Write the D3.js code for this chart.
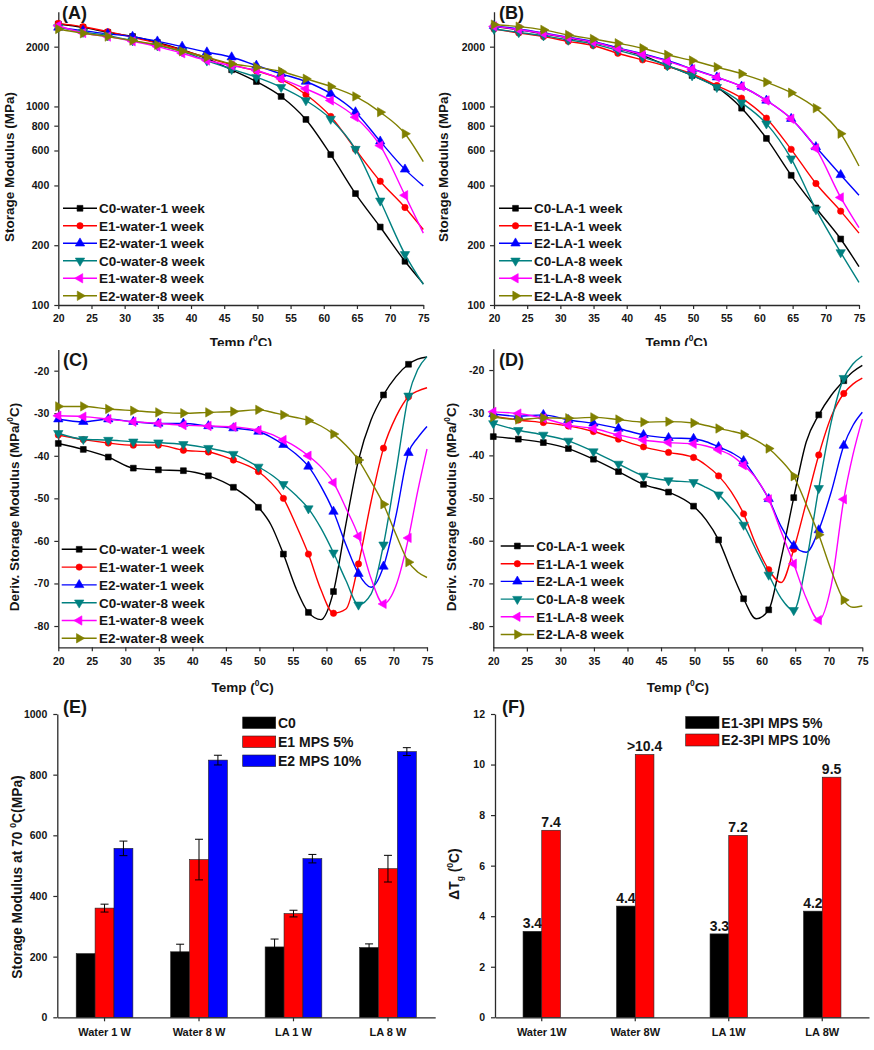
<!DOCTYPE html>
<html><head><meta charset="utf-8">
<script src="https://cdn.jsdelivr.net/npm/d3@7"></script>
<style>
body{margin:0;background:#fff;}
svg text{font-family:"Liberation Sans",Arial,sans-serif;font-weight:bold;fill:#151515;}
</style></head><body>
<svg id="c" width="874" height="1050"></svg>
<script>
// ---------------- DATA ----------------
const tempsAB = [20, 23.73, 27.46, 31.19, 34.93, 38.66, 42.39, 46.12, 49.85, 53.58, 57.31, 61.05, 64.78, 68.51, 72.24, 75];
const markerTemps = [20, 23.73, 27.46, 31.19, 34.93, 38.66, 42.39, 46.12, 49.85, 53.58, 57.31, 61.05, 64.78, 68.51, 72.24];
const tempsCD = [20, 23.73, 27.46, 31.19, 34.93, 38.66, 42.39, 46.12, 49.85, 51.72, 53.58, 55.45, 57.31, 59.18, 61.05, 62.91, 64.78, 66.65, 68.51, 70.38, 72.24, 73.6, 75];

const namesWater = ["C0-water-1 week", "E1-water-1 week", "E2-water-1 week", "C0-water-8 week", "E1-water-8 week", "E2-water-8 week"];
const namesLA = ["C0-LA-1 week", "E1-LA-1 week", "E2-LA-1 week", "C0-LA-8 week", "E1-LA-8 week", "E2-LA-8 week"];

// (A) storage modulus, water (MPa)
const A_C0_1 = [2600, 2500, 2360, 2250, 2100, 1930, 1740, 1530, 1335, 1123, 860, 572, 364, 247, 166, 128];
const A_E1_1 = [2620, 2520, 2380, 2230, 2080, 1920, 1760, 1620, 1510, 1370, 1149, 890, 608, 420, 310, 240];
const A_E2_1 = [2500, 2410, 2320, 2248, 2128, 2002, 1875, 1770, 1607, 1460, 1335, 1159, 936, 667, 482, 398];
const A_C0_8 = [2500, 2370, 2274, 2146, 2026, 1896, 1700, 1540, 1405, 1250, 1072, 865, 610, 335, 180, 127];
const A_E1_8 = [2550, 2345, 2248, 2128, 2002, 1853, 1703, 1607, 1517, 1378, 1227, 1072, 883, 635, 357, 230];
const A_E2_8 = [2455, 2335, 2248, 2146, 2041, 1896, 1770, 1640, 1577, 1500, 1378, 1260, 1123, 936, 729, 527];

// (B) storage modulus, LA (MPa)
const B_C0_1 = [2523, 2430, 2320, 2214, 2105, 1963, 1804, 1607, 1432, 1250, 980, 690, 450, 308, 215, 156];
const B_E1_1 = [2455, 2345, 2248, 2128, 2026, 1853, 1716, 1590, 1460, 1274, 1101, 873, 608, 409, 297, 230];
const B_E2_1 = [2547, 2455, 2345, 2230, 2128, 1972, 1840, 1703, 1546, 1403, 1260, 1072, 867, 625, 452, 357];
const B_C0_8 = [2455, 2362, 2274, 2163, 2066, 1915, 1770, 1607, 1432, 1250, 1044, 819, 546, 303, 184, 130];
const B_E1_8 = [2530, 2440, 2330, 2220, 2110, 1960, 1830, 1690, 1540, 1403, 1260, 1072, 867, 615, 348, 245];
const B_E2_8 = [2583, 2523, 2430, 2290, 2187, 2080, 1963, 1820, 1703, 1577, 1460, 1325, 1172, 980, 729, 501];

// (C) derivative, water (MPa/°C)
const C_C0_1 = [-37.1, -38.5, -40.3, -42.9, -43.3, -43.5, -44.7, -47.4, -52.1, -56.2, -63.1, -71.1, -76.8, -78.5, -71.9, -56, -41, -31.6, -25.7, -21.4, -18.5, -17.3, -16.8];
const C_E1_1 = [-35.1, -36.2, -37, -37.5, -37.5, -38.7, -39.1, -41, -43.7, -46.3, -50, -56.2, -63.1, -71.5, -77, -76, -65.4, -50.8, -38.2, -30.8, -26.1, -24.8, -24];
const C_E2_1 = [-31.4, -32, -31.4, -32, -32.4, -32.4, -33, -33.5, -34.3, -35.6, -37.4, -39.6, -42.5, -47.2, -53.1, -60.9, -67.7, -70.9, -66, -54, -39.3, -35.8, -33.1];
const C_C0_8 = [-34.7, -36.1, -36.3, -36.7, -36.9, -37.3, -38.2, -39.6, -42.6, -44.4, -46.7, -49.3, -52.4, -57, -62.8, -69.3, -75, -72.5, -60.9, -43.7, -25.9, -19.8, -16.7];
const C_E1_8 = [-30.6, -30.8, -31.4, -32, -32.4, -32.8, -33, -33.2, -34, -34.9, -36.3, -37.9, -40, -42.6, -46.3, -52.3, -58.9, -68.8, -74.8, -70.5, -59.3, -48.4, -38.4];
const C_E2_8 = [-28.4, -28.4, -29, -29.4, -29.8, -30, -29.8, -29.6, -29.2, -29.7, -30.4, -31, -31.7, -33, -34.9, -37.5, -41, -46, -51.4, -58.5, -65, -67.3, -68.6];

// (D) derivative, LA (MPa/°C)
const D_C0_1 = [-35.6, -36.2, -37, -38.4, -40.9, -43.8, -46.8, -48.6, -51.9, -55.1, -59.8, -67, -73.6, -78.3, -76.2, -64.1, -49.9, -36.8, -30.5, -25.9, -22.5, -20.4, -18.9];
const D_E1_1 = [-30.8, -31.7, -32.3, -33.1, -34.4, -36.2, -38, -39.3, -40.5, -42.3, -44.8, -48.5, -53.7, -61, -66.8, -69.8, -62, -51, -39.9, -30.9, -25.5, -23.3, -21.9];
const D_E2_1 = [-30.3, -30.8, -30.5, -31.7, -32.5, -33.7, -35.2, -35.9, -36.1, -36.8, -38, -39.3, -41.3, -45.4, -50.2, -56.7, -61.2, -62.7, -57.5, -48.5, -37.7, -33, -29.9];
const D_C0_8 = [-32.5, -34.1, -35.2, -36.6, -39.1, -42, -44.8, -45.9, -46.3, -47.5, -49.2, -52.4, -56.3, -62.2, -68, -73.5, -76.3, -65, -47.7, -32.1, -21.9, -18.6, -16.7];
const D_E1_8 = [-29.8, -30.2, -31.3, -32.9, -33.7, -35.2, -36.4, -37, -37.3, -37.8, -38.7, -40, -42.3, -45.4, -50.3, -57.9, -65.4, -73.5, -78.6, -70.4, -50.3, -39.9, -31.5];
const D_E2_8 = [-31, -31.6, -31.2, -31.3, -31.1, -31.6, -32.2, -32.1, -32.4, -33, -33.7, -34.3, -35.1, -36.5, -38.4, -41.2, -44.9, -51.5, -58.6, -67, -73.9, -75.6, -75.3];

const xTicksT = [20, 25, 30, 35, 40, 45, 50, 55, 60, 65, 70, 75];
const yTicksLog = [100, 200, 400, 600, 800, 1000, 2000];
const yTicksDeriv = [-20, -30, -40, -50, -60, -70, -80];

// (E) storage modulus at 70 °C
const catsE = ["Water 1 W", "Water 8 W", "LA 1 W", "LA 8 W"];
const groupsE = ["C0", "E1 MPS 5%", "E2 MPS 10%"];
const E_C0 = [210, 216, 232, 230];
const E_E1 = [360, 520, 342, 490];
const E_E2 = [557, 848, 523, 876];
const E_C0_err = [0, 25, 26, 12];
const E_E1_err = [13, 67, 11, 44];
const E_E2_err = [24, 16, 14, 13];
const yTicksE = [0, 200, 400, 600, 800, 1000];

// (F) delta Tg
const catsF = ["Water 1W", "Water 8W", "LA 1W", "LA 8W"];
const groupsF = ["E1-3PI MPS 5%", "E2-3PI MPS 10%"];
const F_E1 = [3.4, 4.4, 3.3, 4.2];
const F_E2 = [7.4, 10.4, 7.2, 9.5];
const F_E1_lab = ["3.4", "4.4", "3.3", "4.2"];
const F_E2_lab = ["7.4", ">10.4", "7.2", "9.5"];
const yTicksF = [0, 2, 4, 6, 8, 10, 12];

// ---------------- STYLE ----------------
const colors = ["#000000", "#ff0000", "#0000ff", "#008080", "#ff00ff", "#808000"];
const symTypes = [d3.symbolSquare, d3.symbolCircle, d3.symbolTriangle, d3.symbolTriangle, d3.symbolTriangle, d3.symbolTriangle];
const symRot = [0, 0, 0, 180, -90, 90];
const symSize = [34, 32, 38, 38, 38, 38];

const svg = d3.select("#c");
svg.append("defs").append("clipPath").attr("id", "clipTop")
  .append("rect").attr("x", 0).attr("y", 0).attr("width", 874).attr("height", 346);

function rich(g, x, y, parts, size, anchor, rotate) {
  const t = g.append("text")
    .attr("transform", `translate(${x},${y})` + (rotate ? " rotate(-90)" : ""))
    .attr("text-anchor", anchor || "middle")
    .attr("font-size", size);
  let shift = 0;
  parts.forEach(p => {
    const ts = t.append("tspan").text(p.t);
    let want = p.sup ? -0.45 * size : (p.sub ? 0.3 * size : 0);
    if (want !== shift) ts.attr("dy", want - shift);
    shift = want;
    if (p.sup || p.sub) ts.attr("font-size", size * 0.62);
  });
  return t;
}

function styleAxis(a, fs) {
  a.selectAll("path.domain").attr("stroke", "#2a2a2a").attr("stroke-width", 1.3);
  a.selectAll(".tick line").attr("stroke", "#2a2a2a").attr("stroke-width", 1.2);
  a.selectAll(".tick text").attr("font-size", fs).attr("fill", "#151515")
    .attr("font-family", "'Liberation Sans',Arial,sans-serif").attr("font-weight", "bold");
}

function marker(g, cx, cy, i) {
  g.append("path")
    .attr("d", d3.symbol().type(symTypes[i]).size(symSize[i])())
    .attr("transform", `translate(${cx},${cy}) rotate(${symRot[i]})`)
    .attr("fill", colors[i]).attr("stroke", colors[i]).attr("stroke-width", 0.6);
}

function linePanel(o) {
  const g = svg.append("g");
  if (o.clip) g.attr("clip-path", "url(#clipTop)");
  const x = d3.scaleLinear().domain([20, 75]).range(o.xr);
  const y = o.log ? d3.scaleLog().domain([100, 3000]).range(o.yr)
                  : d3.scaleLinear().domain([-85, -15]).range(o.yr);
  const xa = g.append("g").attr("transform", `translate(0,${o.yr[0]})`)
    .call(d3.axisBottom(x).tickValues(xTicksT).tickSize(4).tickPadding(6).tickSizeOuter(0));
  const ya = g.append("g").attr("transform", `translate(${o.xr[0]},0)`)
    .call(d3.axisLeft(y).tickValues(o.yTicks).tickFormat(d => String(d)).tickSize(4).tickPadding(5).tickSizeOuter(0));
  styleAxis(xa, 10.5); styleAxis(ya, 10.5);

  const line = d3.line().x(d => x(d[0])).y(d => y(d[1])).curve(d3.curveMonotoneX);
  o.series.forEach((vals, i) => {
    const pts = o.temps.map((t, j) => [t, vals[j]]);
    g.append("path").datum(pts).attr("d", line).attr("fill", "none")
      .attr("stroke", colors[i]).attr("stroke-width", 1.4);
    pts.filter(d => markerTemps.includes(d[0])).forEach(d => marker(g, x(d[0]), y(d[1]), i));
  });

  // legend
  o.names.forEach((n, i) => {
    const ly = o.leg.y0 + i * o.leg.dy;
    g.append("line").attr("x1", o.leg.x1).attr("x2", o.leg.x2).attr("y1", ly).attr("y2", ly)
      .attr("stroke", colors[i]).attr("stroke-width", 1.4);
    marker(g, (o.leg.x1 + o.leg.x2) / 2, ly, i);
    g.append("text").attr("x", o.leg.tx).attr("y", ly).attr("dy", "0.36em")
      .attr("font-size", 13.5).text(n);
  });

  // titles
  const xm = (o.xr[0] + o.xr[1]) / 2;
  rich(g, xm, o.xtY, [{t: "Temp ("}, {t: "0", sup: true}, {t: "C)"}], 13.5, "middle");
  rich(g, o.ytX, o.ytY, o.ytParts, 13.5, "middle", true);
  g.append("text").attr("x", o.lab[0]).attr("y", o.lab[1]).attr("font-size", 18).text(o.label);
}

const ytStor = [{t: "Storage Modulus (MPa)"}];
const ytDeriv = [{t: "Deriv. Storage Modulus (MPa/"}, {t: "0", sup: true}, {t: "C)"}];

linePanel({xr: [58.3, 423.3], yr: [305, 11.7], log: true, yTicks: yTicksLog, temps: tempsAB,
  series: [A_C0_1, A_E1_1, A_E2_1, A_C0_8, A_E1_8, A_E2_8], names: namesWater, clip: true,
  leg: {x1: 63, x2: 97, tx: 99, y0: 208.3, dy: 17.5}, xtY: 347, ytX: 14, ytY: 167, ytParts: ytStor,
  lab: [62, 18.5], label: "(A)"});
linePanel({xr: [494, 859], yr: [305, 11.7], log: true, yTicks: yTicksLog, temps: tempsAB,
  series: [B_C0_1, B_E1_1, B_E2_1, B_C0_8, B_E1_8, B_E2_8], names: namesLA, clip: true,
  leg: {x1: 499, x2: 532, tx: 534, y0: 208.3, dy: 17.5}, xtY: 347, ytX: 448, ytY: 167, ytParts: ytStor,
  lab: [499, 18.5], label: "(B)"});
linePanel({xr: [58.3, 427], yr: [647.3, 349.4], log: false, yTicks: yTicksDeriv, temps: tempsCD,
  series: [C_C0_1, C_E1_1, C_E2_1, C_C0_8, C_E1_8, C_E2_8], names: namesWater,
  leg: {x1: 61.7, x2: 96.7, tx: 99, y0: 549.3, dy: 17.8}, xtY: 692, ytX: 19, ytY: 507, ytParts: ytDeriv,
  lab: [63, 366], label: "(C)"});
linePanel({xr: [493.3, 862.3], yr: [647.4, 348.7], log: false, yTicks: yTicksDeriv, temps: tempsCD,
  series: [D_C0_1, D_E1_1, D_E2_1, D_C0_8, D_E1_8, D_E2_8], names: namesLA,
  leg: {x1: 500.7, x2: 534, tx: 536.3, y0: 546, dy: 17.7}, xtY: 692, ytX: 456, ytY: 507, ytParts: ytDeriv,
  lab: [499, 366], label: "(D)"});

// ---------------- (E) ----------------
(function () {
  const g = svg.append("g");
  const x0 = d3.scaleBand().domain(catsE).range([57.3, 435.2]);
  const x1 = d3.scaleBand().domain(groupsE).range([x0.bandwidth() * 0.2, x0.bandwidth() * 0.8]);
  const y = d3.scaleLinear().domain([0, 1000]).range([1017.3, 714]);
  const vals = [E_C0, E_E1, E_E2], errs = [E_C0_err, E_E1_err, E_E2_err];
  const fills = ["#000000", "#ff0000", "#0000ff"];
  groupsE.forEach((s, k) => {
    catsE.forEach((c, j) => {
      const bx = x0(c) + x1(s);
      g.append("rect").attr("x", bx).attr("y", y(vals[k][j])).attr("width", x1.bandwidth())
        .attr("height", y(0) - y(vals[k][j])).attr("fill", fills[k]).attr("stroke", "#222").attr("stroke-width", 0.6);
    });
  });
  groupsE.forEach((s, k) => {
    catsE.forEach((c, j) => {
      const e = errs[k][j]; if (!e) return;
      const cx = x0(c) + x1(s) + x1.bandwidth() / 2;
      const v = vals[k][j];
      g.append("line").attr("x1", cx).attr("x2", cx).attr("y1", y(v - e)).attr("y2", y(v + e)).attr("stroke", "#000").attr("stroke-width", 1);
      [v - e, v + e].forEach(w => g.append("line").attr("x1", cx - 4).attr("x2", cx + 4)
        .attr("y1", y(w)).attr("y2", y(w)).attr("stroke", "#000").attr("stroke-width", 1));
    });
  });
  const xa = g.append("g").attr("transform", `translate(0,${y(0)})`)
    .call(d3.axisBottom(x0).tickSize(4).tickPadding(7).tickSizeOuter(0));
  const ya = g.append("g").attr("transform", `translate(57.3,0)`)
    .call(d3.axisLeft(y).tickValues(yTicksE).tickFormat(d => String(d)).tickSize(4).tickPadding(6).tickSizeOuter(0));
  styleAxis(xa, 11); styleAxis(ya, 10.5);
  groupsE.forEach((s, k) => {
    const ly = 717 + k * 19;
    g.append("rect").attr("x", 242.7).attr("y", ly).attr("width", 33).attr("height", 11.5)
      .attr("fill", fills[k]).attr("stroke", "#222").attr("stroke-width", 0.6);
    g.append("text").attr("x", 278).attr("y", ly + 5.8).attr("dy", "0.36em").attr("font-size", 14).text(s);
  });
  rich(g, 22, 877, [{t: "Storage Modulus at 70 "}, {t: "0", sup: true}, {t: "C(MPa)"}], 13.8, "middle", true);
  g.append("text").attr("x", 63).attr("y", 713).attr("font-size", 18).text("(E)");
})();

// ---------------- (F) ----------------
(function () {
  const g = svg.append("g");
  const x0 = d3.scaleBand().domain(catsF).range([495, 869]);
  const x1 = d3.scaleBand().domain(groupsF).range([x0.bandwidth() * 0.3, x0.bandwidth() * 0.7]);
  const y = d3.scaleLinear().domain([0, 12]).range([1017.3, 714]);
  const vals = [F_E1, F_E2], labs = [F_E1_lab, F_E2_lab];
  const fills = ["#000000", "#ff0000"];
  groupsF.forEach((s, k) => {
    catsF.forEach((c, j) => {
      const bx = x0(c) + x1(s);
      g.append("rect").attr("x", bx).attr("y", y(vals[k][j])).attr("width", x1.bandwidth())
        .attr("height", y(0) - y(vals[k][j])).attr("fill", fills[k]).attr("stroke", "#222").attr("stroke-width", 0.6);
      g.append("text").attr("x", bx + x1.bandwidth() / 2).attr("y", y(vals[k][j]) - 3)
        .attr("text-anchor", "middle").attr("font-size", 14).text(labs[k][j]);
    });
  });
  const xa = g.append("g").attr("transform", `translate(0,${y(0)})`)
    .call(d3.axisBottom(x0).tickSize(4).tickPadding(7).tickSizeOuter(0));
  const ya = g.append("g").attr("transform", `translate(495,0)`)
    .call(d3.axisLeft(y).tickValues(yTicksF).tickFormat(d => String(d)).tickSize(4).tickPadding(6).tickSizeOuter(0));
  styleAxis(xa, 11); styleAxis(ya, 10.5);
  groupsF.forEach((s, k) => {
    const ly = 716.5 + k * 17.5;
    g.append("rect").attr("x", 685.7).attr("y", ly).attr("width", 33.3).attr("height", 12)
      .attr("fill", fills[k]).attr("stroke", "#222").attr("stroke-width", 0.6);
    g.append("text").attr("x", 721.3).attr("y", ly + 6).attr("dy", "0.36em").attr("font-size", 14).text(s);
  });
  rich(g, 459, 874, [{t: "ΔT"}, {t: "g", sub: true}, {t: " ("}, {t: "0", sup: true}, {t: "C)"}], 13.8, "middle", true);
  g.append("text").attr("x", 502).attr("y", 713).attr("font-size", 18).text("(F)");
})();
</script>
</body></html>
